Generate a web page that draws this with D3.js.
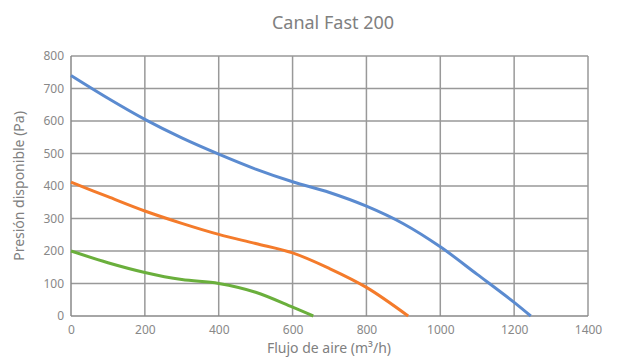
<!DOCTYPE html>
<html><head><meta charset="utf-8">
<script src="https://cdn.jsdelivr.net/npm/d3@7"></script>
<style>body{margin:0;background:#fff}svg{display:block}text{font-family:"Noto Sans",sans-serif}</style>
</head><body><svg id="c" width="624" height="358"></svg>
<script>
const xTicks=[0,200,400,600,800,1000,1200,1400];
const yTicks=[0,100,200,300,400,500,600,700,800];
const blueX=[0,100,200,300,400,500,600,700,800,900,1000,1100,1200,1245];
const blueY=[740,670,605,548,498,452,413,380,338,284,213,128,42,0];
const orangeX=[0,100,200,300,400,500,600,700,800,913];
const orangeY=[412,367,323,285,251,223,194,146,88,0];
const greenX=[0,100,200,300,400,500,600,656];
const greenY=[200,164,134,112,100,73,27,0];
const series=[
 {x:blueX,y:blueY,color:"#5b8bd0"},
 {x:orangeX,y:orangeY,color:"#f47b2b"},
 {x:greenX,y:greenY,color:"#6aaf3c"}];
const svg=d3.select("#c");
const L=71,R=588,T=56,B=316;
const x=d3.scaleLinear().domain([0,1400]).range([L,R]);
const y=d3.scaleLinear().domain([0,800]).range([B,T]);
const grid="#999";
svg.append("g").selectAll("line").data(xTicks.slice(1)).join("line")
 .attr("x1",d=>x(d)).attr("x2",d=>x(d)).attr("y1",T).attr("y2",B)
 .attr("stroke",grid).attr("stroke-width",1.5);
svg.append("g").selectAll("line").data(yTicks.slice(1)).join("line")
 .attr("x1",L).attr("x2",R).attr("y1",d=>y(d)).attr("y2",d=>y(d))
 .attr("stroke",grid).attr("stroke-width",1.5);
svg.append("line").attr("x1",L).attr("x2",L).attr("y1",T).attr("y2",B).attr("stroke","#888").attr("stroke-width",1.5);
svg.append("line").attr("x1",L).attr("x2",R).attr("y1",B).attr("y2",B).attr("stroke","#888").attr("stroke-width",1.5);
const fmt=d3.format("d");
const gx=svg.append("g").attr("transform",`translate(0,${B})`).call(d3.axisBottom(x).tickValues(xTicks).tickFormat(fmt).tickSize(0).tickPadding(9));
gx.select(".domain").remove();
gx.selectAll("text").attr("fill","#888").style("font-size","12px");
const gy=svg.append("g").attr("transform",`translate(${L},0)`).call(d3.axisLeft(y).tickValues(yTicks).tickFormat(fmt).tickSize(0).tickPadding(7));
gy.select(".domain").remove();
gy.selectAll("text").attr("fill","#888").style("font-size","12px");
const line=d3.line().x(d=>x(d[0])).y(d=>y(d[1])).curve(d3.curveCatmullRom.alpha(0.5));
series.forEach(s=>{
 svg.append("path").datum(s.x.map((v,i)=>[v,s.y[i]])).attr("d",line)
  .attr("fill","none").attr("stroke",s.color).attr("stroke-width",3);
});
svg.append("text").attr("x",333).attr("y",29).attr("text-anchor","middle")
 .attr("fill","#808080").style("font-size","18px").text("Canal Fast 200");
svg.append("text").attr("x",329).attr("y",353).attr("text-anchor","middle")
 .attr("fill","#808080").style("font-size","14px").text("Flujo de aire (m³/h)");
svg.append("text").attr("transform","translate(24,186) rotate(-90)").attr("text-anchor","middle")
 .attr("fill","#808080").style("font-size","14px").text("Presión disponible (Pa)");
</script></body></html>
